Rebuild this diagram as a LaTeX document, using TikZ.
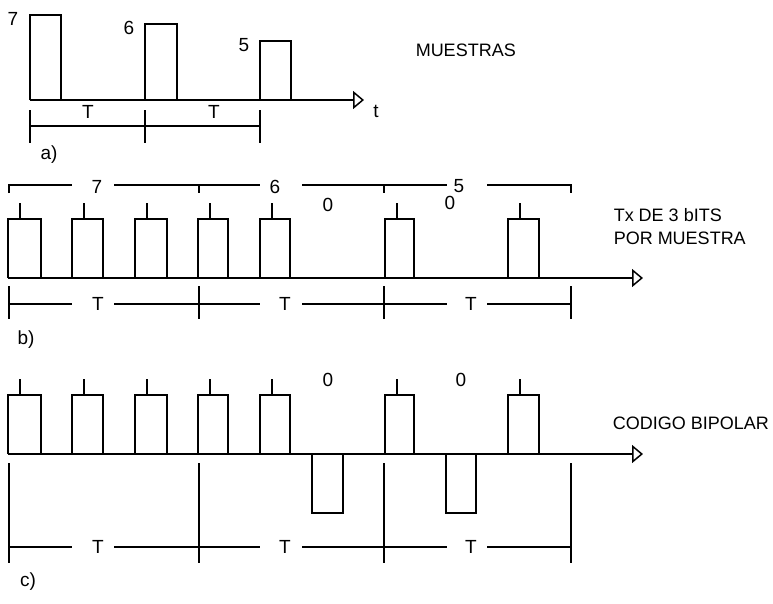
\documentclass[tikz,border=0pt]{standalone}
\usepackage{fontspec}
\setmainfont{Liberation Sans}
\usetikzlibrary{arrows.meta}
\begin{document}
\begin{tikzpicture}[x=1pt,y=-1pt,line width=1.5pt,line cap=butt,line join=miter,
  lbl/.style={font=\fontsize{19}{19}\selectfont,inner sep=0pt},
  word/.style={font=\fontsize{18}{23}\selectfont,inner sep=0pt,anchor=west,align=left},
  axis/.style={-{Triangle[open,length=11pt,width=18pt,line width=1.5pt]}},
  wave/.style={line width=1.6pt}]
\useasboundingbox (0,0) rectangle (773,603);

% ---------------- a) ----------------
\coordinate (a0) at (30,100);
\coordinate (a1) at (364,100);
\draw[wave,axis] (a0) -- (a1);
\draw[wave] (30,100) -- (30,15) -- (61,15) -- (61,100);
\draw[wave] (145,100) -- (145,24) -- (177,24) -- (177,100);
\draw[wave] (260,100) -- (260,41) -- (291,41) -- (291,100);
\node[lbl] (a7) at (13,19) {7};
\node[lbl] (a6) at (129,28) {6};
\node[lbl] (a5) at (244,45) {5};
\node[lbl] (at) at (376,111) {t};
\node[word] (muestras) at (415,50) {MUESTRAS};
\foreach \x in {30,145,260} \draw (\x,110) -- (\x,143);
\draw (30,126) -- (260,126);
\node[lbl] (aT1) at (88,112) {T};
\node[lbl] (aT2) at (214,112) {T};
\node[lbl] (alab) at (49,155) {a)};

% ---------------- b) ----------------
\draw (9,193) -- (9,185) -- (72,185);
\draw (114,185) -- (260,185);
\draw (199,185) -- (199,193);
\draw (302,185) -- (447,185);
\draw (384,185) -- (384,193);
\draw (487,185) -- (571,185) -- (571,193);
\node[lbl] (b7) at (97,187) {7};
\node[lbl] (b6) at (275,187) {6};
\node[lbl] (b5) at (459,186) {5};
\node[lbl] (b0a) at (328,205) {0};
\node[lbl] (b0b) at (450,203) {0};

\coordinate (b0) at (8,278);
\coordinate (b1) at (643,278);
\draw[wave,axis] (b0) -- (b1);
\foreach \l/\r in {8/41,72/103,135/167,198/228,260/290,385/414,508/539} {
  \draw[wave] (\l,278) -- (\l,219) -- (\r,219) -- (\r,278);
  \draw (\l+12,219) -- (\l+12,203);
}
\node[word] (txbits) at (613,227) {Tx DE 3 bITS\\POR MUESTRA};

\foreach \x in {9,199,384,571} \draw (\x,286) -- (\x,319);
\draw (9,304) -- (72,304);
\draw (114,304) -- (260,304);
\draw (302,304) -- (447,304);
\draw (487,304) -- (571,304);
\node[lbl] (bT1) at (98,304) {T};
\node[lbl] (bT2) at (285,304) {T};
\node[lbl] (bT3) at (471,304) {T};
\node[lbl] (blab) at (26,340) {b)};

% ---------------- c) ----------------
\node[lbl] (c0a) at (328,380) {0};
\node[lbl] (c0b) at (461,380) {0};
\coordinate (c0) at (8,454);
\coordinate (c1) at (643,454);
\draw[wave,axis] (c0) -- (c1);
\foreach \l/\r in {8/41,72/103,135/167,198/228,260/290,385/414,508/539} {
  \draw[wave] (\l,454) -- (\l,395) -- (\r,395) -- (\r,454);
  \draw (\l+12,395) -- (\l+12,379);
}
\foreach \l/\r in {312/343,446/476}
  \draw[wave] (\l,454) -- (\l,513) -- (\r,513) -- (\r,454);
\node[word] (bipolar) at (612,423) {CODIGO BIPOLAR};

\foreach \x in {9,199,384,571} \draw (\x,463) -- (\x,563);
\draw (9,547) -- (72,547);
\draw (114,547) -- (260,547);
\draw (302,547) -- (447,547);
\draw (487,547) -- (571,547);
\node[lbl] (cT1) at (98,547) {T};
\node[lbl] (cT2) at (285,547) {T};
\node[lbl] (cT3) at (471,547) {T};
\node[lbl] (clab) at (28,582) {c)};
\end{tikzpicture}
\end{document}
